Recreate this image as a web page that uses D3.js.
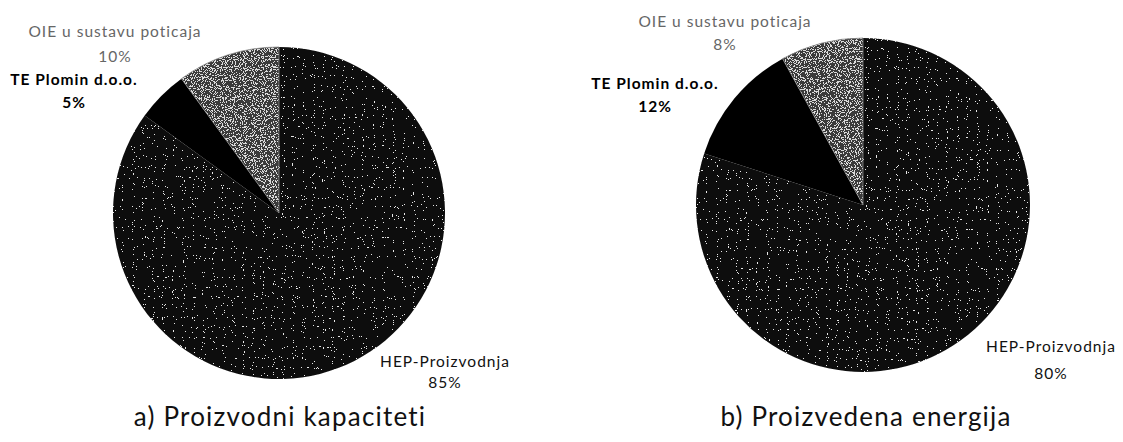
<!DOCTYPE html>
<html>
<head>
<meta charset="utf-8">
<script src="https://cdn.jsdelivr.net/npm/d3@7"></script>
<style>
  html, body { margin: 0; padding: 0; background: #fff; }
  svg { display: block; }
  text { font-family: Lato, "Noto Sans", sans-serif; }
</style>
</head>
<body>
<svg id="chart" width="1123" height="442"></svg>
<script>
// ---- data ----
const categories = ["HEP-Proizvodnja", "TE Plomin d.o.o.", "OIE u sustavu poticaja"];
const valuesA = [85, 5, 10];   // a) Proizvodni kapaciteti (%)
const valuesB = [80, 12, 8];   // b) Proizvedena energija (%)
const captions = ["a) Proizvodni kapaciteti", "b) Proizvedena energija"];

// ---- layout (kept apart from data) ----
const charts = [
  { values: valuesA, caption: captions[0], cx: 279, cy: 213, r: 166, capX: 280, capY: 426,
    labels: [ {x: 445, y: 367, dy: 21}, {x: 74, y: 85, dy: 23}, {x: 115, y: 37, dy: 25} ] },
  { values: valuesB, caption: captions[1], cx: 863, cy: 205, r: 167, capX: 866, capY: 426,
    labels: [ {x: 1051, y: 352, dy: 27}, {x: 655, y: 89, dy: 23}, {x: 725, y: 27, dy: 23} ] }
];
const fills = d3.scaleOrdinal().domain(categories).range(["#0e0e0e", "#000000", "#3a3a3a"]);
const speckle = d3.scaleOrdinal().domain(categories).range(["url(#speckLow)", "none", "url(#speckHigh)"]);
const labelStyle = d3.scaleOrdinal().domain(categories).range([
  {fill: "#111", weight: 400}, {fill: "#000", weight: 700}, {fill: "#666", weight: 400}
]);

const svg = d3.select("#chart");
const defs = svg.append("defs");
function makeSpeck(id, seed, table) {
  const f = defs.append("filter").attr("id", id).attr("x", 0).attr("y", 0).attr("width", 1).attr("height", 1);
  f.append("feTurbulence").attr("type", "fractalNoise").attr("baseFrequency", 0.9)
    .attr("numOctaves", 1).attr("seed", seed).attr("result", "noise");
  f.append("feColorMatrix").attr("in", "noise").attr("type", "matrix")
    .attr("values", `0 0 0 0 1  0 0 0 0 1  0 0 0 0 1  1 0 0 0 0`).attr("result", "a");
  const ct = f.append("feComponentTransfer").attr("in", "a").attr("result", "dots");
  ct.append("feFuncA").attr("type", "discrete").attr("tableValues", table);
  f.append("feComposite").attr("in", "dots").attr("in2", "SourceGraphic").attr("operator", "in").attr("result", "clipped");
  const m = f.append("feMerge");
  m.append("feMergeNode").attr("in", "SourceGraphic");
  m.append("feMergeNode").attr("in", "clipped");
}
makeSpeck("speckLow", 4, "0 0 0 0 0 0 0 0 0 0 0 0 0 0 0.8 0.8 0.8 0.8 0.8 0.8");
makeSpeck("speckHigh", 7, "0 0 0 0 0 0 0 0 0 0 0 0.7 0.7 0.7 0.7 0.7 0.7 0.7 0.7 0.7");

const pie = d3.pie().sort(null).value(d => d.value);
const arc = d3.arc().innerRadius(0);

charts.forEach(c => {
  const data = categories.map((name, i) => ({ name, value: c.values[i], i }));
  const arcs = pie(data);
  const g = svg.append("g").attr("transform", `translate(${c.cx},${c.cy})`);
  g.selectAll("path.slice").data(arcs).join("path")
    .attr("class", "slice")
    .attr("d", d => arc.outerRadius(c.r)(d))
    .attr("fill", d => fills(d.data.name))
    .attr("filter", d => speckle(d.data.name));
  // thin light boundary of the grey slice
  g.selectAll("path.edge").data(arcs.filter(d => d.data.i === 2)).join("path")
    .attr("class", "edge")
    .attr("d", d => arc.outerRadius(c.r)(d))
    .attr("fill", "none").attr("stroke", "#8a8a8a").attr("stroke-width", 0.8);

  const lg = svg.append("g");
  arcs.forEach((d, i) => {
    const L = c.labels[i];
    const st = labelStyle(d.data.name);
    const t = lg.append("text").attr("text-anchor", "middle")
      .attr("font-size", 15.5).attr("letter-spacing", 1)
      .attr("font-weight", st.weight).attr("fill", st.fill);
    t.append("tspan").attr("x", L.x).attr("y", L.y).text(d.data.name);
    t.append("tspan").attr("x", L.x).attr("y", L.y + L.dy).text(d3.format(".0%")(d.data.value / 100));
  });

  svg.append("text").attr("x", c.capX).attr("y", c.capY).attr("text-anchor", "middle")
    .attr("font-size", 26).attr("letter-spacing", 1.2).attr("fill", "#111").text(c.caption);
});
</script>
</body>
</html>
